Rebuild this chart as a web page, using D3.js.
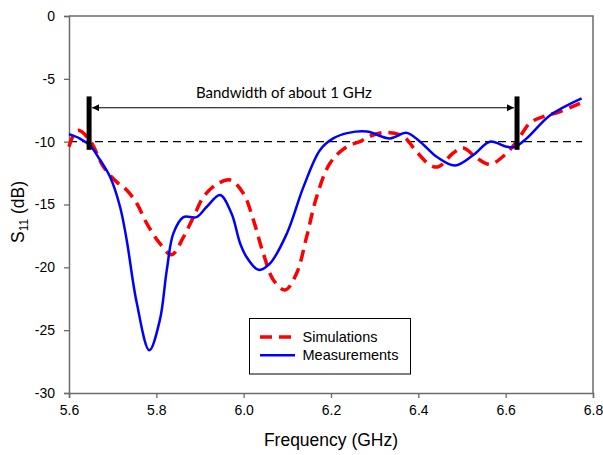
<!DOCTYPE html>
<html>
<head>
<meta charset="utf-8">
<script src="https://cdn.jsdelivr.net/npm/d3@7"></script>
<style>
  html, body { margin: 0; padding: 0; background: #fff; }
  svg { display: block; }
</style>
</head>
<body>
<script>
// ---------- data ----------
const measFreq = [5.600, 5.625, 5.648, 5.671, 5.694, 5.717, 5.732, 5.755, 5.784, 5.808, 5.824, 5.839, 5.862, 5.892, 5.915, 5.946, 5.972, 5.992, 6.007, 6.034, 6.060, 6.099, 6.137, 6.175, 6.205, 6.240, 6.282, 6.335, 6.373, 6.404, 6.442, 6.484, 6.526, 6.564, 6.602, 6.622, 6.648, 6.702, 6.774];
const measS11  = [-9.4, -9.75, -10.3, -11.45, -12.8, -15.2, -17.8, -22.8, -26.6, -24.2, -20.2, -17.3, -16.0, -16.0, -15.2, -14.25, -15.7, -18.1, -19.2, -20.2, -19.7, -17.3, -13.6, -10.66, -9.74, -9.3, -9.2, -9.74, -9.3, -10.0, -11.2, -11.9, -11.06, -10.0, -10.4, -10.4, -9.74, -7.9, -6.55];

const simFreq = [5.600, 5.610, 5.621, 5.648, 5.679, 5.709, 5.732, 5.755, 5.778, 5.808, 5.835, 5.862, 5.885, 5.908, 5.938, 5.969, 5.999, 6.022, 6.045, 6.068, 6.095, 6.121, 6.144, 6.167, 6.198, 6.236, 6.266, 6.290, 6.328, 6.366, 6.396, 6.427, 6.446, 6.480, 6.503, 6.534, 6.564, 6.598, 6.625, 6.656, 6.686, 6.725, 6.770];
const simS11  = [-10.4, -9.5, -9.1, -9.9, -12.0, -13.2, -13.85, -14.9, -16.5, -18.1, -19.0, -17.6, -16.0, -14.4, -13.4, -13.05, -14.1, -16.2, -18.9, -21.0, -21.8, -20.5, -17.6, -14.4, -11.7, -10.4, -10.0, -9.55, -9.26, -9.6, -10.8, -11.86, -12.0, -10.9, -10.5, -11.3, -11.8, -11.06, -10.0, -8.5, -8.0, -7.6, -6.95];

const xTicks = [5.6, 5.8, 6.0, 6.2, 6.4, 6.6, 6.8];
const yTicks = [0, -5, -10, -15, -20, -25, -30];
const seriesNames = ["Simulations", "Measurements"];

const refLevel = -10;          // dashed reference line (dB)
const refLineEnd = 6.775;      // GHz
const bandEdges = [5.646, 6.626];
const barRange = [-6.4, -10.65];
const arrowLevel = -7.3;
const annotation = "Bandwidth of about 1 GHz";
const annotationAt = [6.092, -6.5];

// ---------- layout ----------
const W = 603, H = 455;
const x = d3.scaleLinear().domain([5.6, 6.8]).range([69, 593]);
const y = d3.scaleLinear().domain([-30, 0]).range([393, 16]);

const svg = d3.select("body").append("svg").attr("width", W).attr("height", H);
const axisColor = "#6b6b6b";
const tickFont = "'Liberation Sans', Arial, sans-serif";

// frame (top/right)
svg.append("path")
  .attr("d", `M${x(5.6)},${y(0)}H${x(6.8)}V${y(-30)}`)
  .attr("fill", "none").attr("stroke", axisColor).attr("stroke-width", 1.5);

// axes
const xAxis = svg.append("g").attr("transform", `translate(0,${y(-30)})`)
  .call(d3.axisBottom(x).tickValues(xTicks).tickFormat(d3.format(".1f")).tickSizeOuter(0).tickSize(5).tickPadding(7));
const yAxis = svg.append("g").attr("transform", `translate(${x(5.6)},0)`)
  .call(d3.axisLeft(y).tickValues(yTicks).tickFormat(d => d3.format("d")(d).replace("−", "-")).tickSizeOuter(0).tickSize(5).tickPadding(9));
[xAxis, yAxis].forEach(g => {
  g.select(".domain").attr("stroke", axisColor).attr("stroke-width", 1.5);
  g.selectAll(".tick line").attr("stroke", axisColor).attr("stroke-width", 1.3);
  g.selectAll(".tick text").attr("fill", "#000").attr("font-family", tickFont).attr("font-size", 14);
});

// axis titles
svg.append("text")
  .attr("x", (x(5.6) + x(6.8)) / 2).attr("y", 446)
  .attr("text-anchor", "middle").attr("font-family", tickFont).attr("font-size", 17.5)
  .text("Frequency (GHz)");
const yl = svg.append("text")
  .attr("transform", `translate(24,${212}) rotate(-90)`)
  .attr("text-anchor", "middle").attr("font-family", tickFont).attr("font-size", 17.5);
yl.append("tspan").text("S");
yl.append("tspan").attr("font-size", 12).attr("dy", 4).text("11");
yl.append("tspan").attr("dy", -4).text(" (dB)");

// reference dashed line
svg.append("line")
  .attr("x1", x(5.6)).attr("x2", x(refLineEnd))
  .attr("y1", y(refLevel)).attr("y2", y(refLevel))
  .attr("stroke", "#000").attr("stroke-width", 1.2).attr("stroke-dasharray", "8,5");

// curves
const line = d3.line().x(d => x(d[0])).y(d => y(d[1])).curve(d3.curveCatmullRom.alpha(0.5));
svg.append("path")
  .datum(simFreq.map((f, i) => [f, simS11[i]]))
  .attr("d", line).attr("fill", "none")
  .attr("stroke", "#ff0000").attr("stroke-width", 3.5).attr("stroke-dasharray", "12,7");
svg.append("path")
  .datum(measFreq.map((f, i) => [f, measS11[i]]))
  .attr("d", line).attr("fill", "none")
  .attr("stroke", "#0000ff").attr("stroke-width", 2.5);

// bandwidth annotation
const defs = svg.append("defs");
["start", "end"].forEach(k => {
  defs.append("marker").attr("id", "arr-" + k)
    .attr("viewBox", "0 0 10 10").attr("refX", k === "end" ? 10 : 0).attr("refY", 5)
    .attr("markerWidth", 8).attr("markerHeight", 7).attr("markerUnits", "userSpaceOnUse")
    .attr("orient", "auto")
    .append("path")
    .attr("d", k === "end" ? "M0,0L10,5L0,10Z" : "M10,0L0,5L10,10Z").attr("fill", "#000");
});
svg.append("line")
  .attr("x1", x(bandEdges[0]) + 3).attr("x2", x(bandEdges[1]) - 3)
  .attr("y1", y(arrowLevel)).attr("y2", y(arrowLevel))
  .attr("stroke", "#000").attr("stroke-width", 1.2)
  .attr("marker-start", "url(#arr-start)").attr("marker-end", "url(#arr-end)");
bandEdges.forEach(f => {
  svg.append("line")
    .attr("x1", x(f)).attr("x2", x(f))
    .attr("y1", y(barRange[0])).attr("y2", y(barRange[1]))
    .attr("stroke", "#000").attr("stroke-width", 5);
});
svg.append("text")
  .attr("x", x(annotationAt[0])).attr("y", y(annotationAt[1]))
  .attr("text-anchor", "middle").attr("font-family", "Lato, 'Open Sans', sans-serif").attr("font-size", 15)
  .text(annotation);

// legend
const lg = svg.append("g");
lg.append("rect").attr("x", 249.5).attr("y", 318.5).attr("width", 161).attr("height", 55.5)
  .attr("fill", "#fff").attr("stroke", "#000").attr("stroke-width", 1);
const legendStyles = [
  { color: "#ff0000", width: 3.5, dash: "12,7" },
  { color: "#0000ff", width: 2.5, dash: null }
];
seriesNames.forEach((name, i) => {
  const cy = 337 + i * 18.3;
  lg.append("line").attr("x1", 260).attr("x2", 295).attr("y1", cy).attr("y2", cy)
    .attr("stroke", legendStyles[i].color).attr("stroke-width", legendStyles[i].width)
    .attr("stroke-dasharray", legendStyles[i].dash);
  lg.append("text").attr("x", 302.5).attr("y", cy + 5)
    .attr("font-family", tickFont).attr("font-size", 14.5).text(name);
});
</script>
</body>
</html>
